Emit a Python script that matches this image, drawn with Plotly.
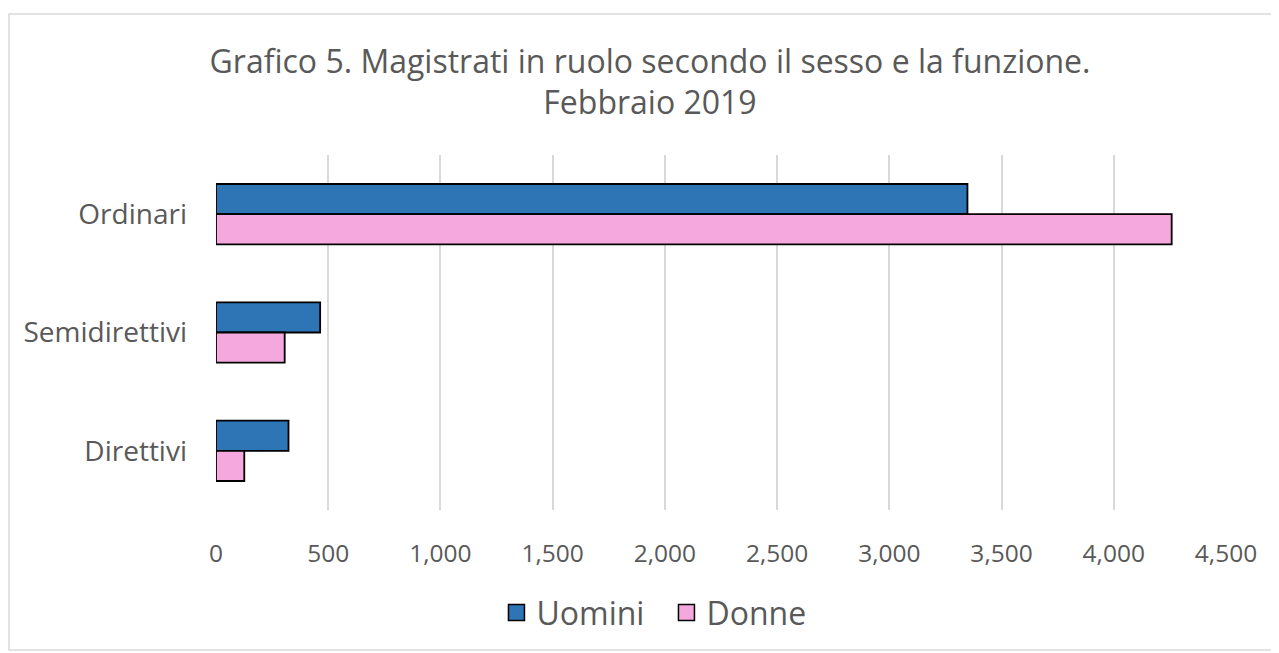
import plotly.graph_objects as go

categories = ["Ordinari", "Semidirettivi", "Direttivi"]
uomini = [3348, 464, 323]
donne = [4258, 306, 126]
x_ticks = [0, 500, 1000, 1500, 2000, 2500, 3000, 3500, 4000, 4500]
x_tick_labels = ["0", "500", "1,000", "1,500", "2,000", "2,500", "3,000", "3,500", "4,000", "4,500"]

BLUE = "#2E75B6"
PINK = "#F4A8DE"
TXT = "#595959"
FONT = "Open Sans"

W, H = 1271, 645
L, T = 208, 147
PW, PH = 1010, 355
R = W - L - PW
B = H - T - PH

fig = go.Figure()
fig.add_trace(go.Bar(y=categories, x=uomini, orientation="h", name="Uomini",
                     marker=dict(color=BLUE, line=dict(color="black", width=1.8)),
                     showlegend=False))
fig.add_trace(go.Bar(y=categories, x=donne, orientation="h", name="Donne",
                     marker=dict(color=PINK, line=dict(color="black", width=1.8)),
                     showlegend=False))
# legend entries
fig.add_trace(go.Scatter(x=[None], y=[None], mode="markers", name="Uomini",
                         marker=dict(symbol="square", size=20, color=BLUE,
                                     line=dict(color="black", width=1.5))))
fig.add_trace(go.Scatter(x=[None], y=[None], mode="markers", name="Donne",
                         marker=dict(symbol="square", size=20, color=PINK,
                                     line=dict(color="black", width=1.5))))

fig.update_layout(
    width=W, height=H,
    margin=dict(l=L, r=R, t=T, b=B),
    paper_bgcolor="white", plot_bgcolor="white",
    barmode="group", bargap=0.49, bargroupgap=0,
    font=dict(family=FONT, color=TXT),
    title=dict(text="Grafico 5. Magistrati in ruolo secondo il sesso e la funzione.<br>Febbraio 2019",
               x=(650 - 8) / W, xref="container", xanchor="center", y=0.900, yanchor="top",
               font=dict(size=32, color=TXT, family=FONT)),
    xaxis=dict(range=[0, 4500], tickvals=x_ticks, ticktext=x_tick_labels,
               showgrid=True, gridcolor="#d9d9d9", gridwidth=1.5, zeroline=False,
               showline=False, ticks="", ticklabelstandoff=26,
               tickfont=dict(size=24.5, color=TXT)),
    yaxis=dict(autorange="reversed", showgrid=False, zeroline=False, showline=False,
               ticks="", ticklabelstandoff=28, tickfont=dict(size=28, color=TXT)),
    legend=dict(orientation="h", x=0.446, xanchor="center", y=-0.212, yanchor="top",
                font=dict(size=32, color=TXT), itemsizing="trace", entrywidth=125),
    shapes=[dict(type="rect", xref="paper", yref="paper",
                 x0=(1 - L) / PW, x1=(1268 - L) / PW,
                 y0=(T + PH - 642) / PH, y1=(T + PH - 6) / PH,
                 line=dict(color="#d9d9d9", width=1.5), fillcolor="rgba(0,0,0,0)", layer="below")],
)

fig.write_html("out.html")
